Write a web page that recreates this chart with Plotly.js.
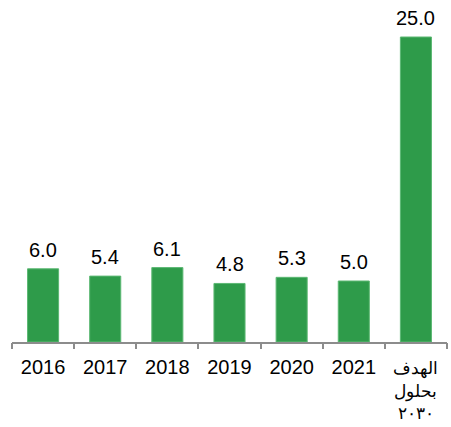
<!DOCTYPE html>
<html>
<head>
<meta charset="utf-8">
<script src="https://cdn.plot.ly/plotly-3.0.1.min.js"></script>
<style>html,body{margin:0;padding:0;background:#fff;}#chart{width:451px;height:427px;}</style>
</head>
<body>
<div id="chart"></div>
<script>
const categories = ["2016", "2017", "2018", "2019", "2020", "2021", "الهدف<br>بحلول<br>٢٠٣٠"];
const values = [6.0, 5.4, 6.1, 4.8, 5.3, 5.0, 25.0];
const labels = values.map(v => v.toFixed(1));

const idx = categories.map((c, i) => i);
const tickText = categories.map(c => c.indexOf('<br>') >= 0
  ? c
  : "<span style='font-size:20px'>" + c + "</span>");

const trace = {
  type: 'bar',
  x: idx,
  y: values,
  width: 0.5,
  marker: {color: '#2e9b4a', line: {color: '#5cb873', width: 1}},
  hoverinfo: 'skip'
};

const annotations = idx.map(i => ({
  x: i, y: values[i], text: labels[i], showarrow: false,
  xanchor: 'center', yanchor: 'bottom', yshift: 6,
  font: {family: 'Liberation Sans, Arial, sans-serif', size: 20, color: '#000'}
}));

const boundaryTicks = idx.concat([idx.length]).map(i => i - 0.5);

const layout = {
  width: 451, height: 427,
  margin: {l: 12, r: 4, t: 10, b: 85},
  paper_bgcolor: '#fff', plot_bgcolor: '#fff',
  showlegend: false,
  font: {family: 'Liberation Sans, Arial, sans-serif', size: 20, color: '#000'},
  xaxis: {
    type: 'linear',
    range: [-0.5, categories.length - 0.5],
    showline: true, linecolor: '#8c8c8c', linewidth: 2,
    tickmode: 'array', tickvals: idx, ticktext: tickText,
    ticks: '', ticklabelstandoff: 10,
    showgrid: false, zeroline: false, fixedrange: true,
    tickfont: {size: 17, color: '#000'}
  },
  xaxis2: {
    overlaying: 'x', matches: 'x', side: 'bottom', anchor: 'y',
    type: 'linear', range: [-0.5, categories.length - 0.5],
    tickmode: 'array', tickvals: boundaryTicks, ticktext: boundaryTicks.map(() => ''),
    ticks: 'outside', ticklen: 6, tickcolor: '#8c8c8c', tickwidth: 2,
    showgrid: false, zeroline: false, showline: false, fixedrange: true
  },
  yaxis: {
    range: [0, 332 / 12.2],
    visible: false, showgrid: false, zeroline: false, fixedrange: true
  },
  annotations: annotations
};

const dummy = {type: 'scatter', x: [0], y: [0], xaxis: 'x2', mode: 'markers', marker: {opacity: 0}, hoverinfo: 'skip'};

Plotly.newPlot('chart', [trace, dummy], layout, {displayModeBar: false, staticPlot: true});
</script>
</body>
</html>
